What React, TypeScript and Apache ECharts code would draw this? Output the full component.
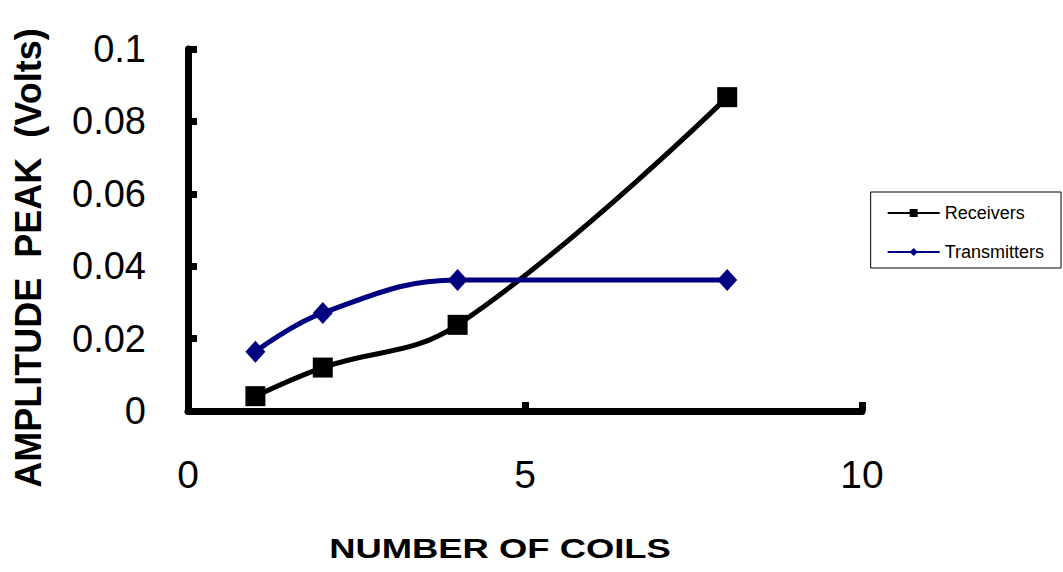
import React, { useEffect, useRef } from "react";
import * as echarts from "echarts";

const coils = [1, 2, 4, 8];
const receivers = [0.0041, 0.012, 0.0238, 0.0867];
const transmitters = [0.0164, 0.0271, 0.0362, 0.0362];
const xTitle = "NUMBER OF COILS";
const yTitle = "AMPLITUDE  PEAK  (Volts)";

export default function App() {
  const ref = useRef<HTMLDivElement>(null);
  useEffect(() => {
    const chart = echarts.init(ref.current!, null, { renderer: "svg" });
    const font = "Liberation Sans, Arial, sans-serif";
    chart.setOption({
      animation: false,
      backgroundColor: "#ffffff",
      grid: { left: 188, top: 49, width: 674, height: 362, containLabel: false, outerBoundsMode: "none" },
      xAxis: {
        type: "value",
        min: 0,
        max: 10,
        interval: 5,
        axisLine: { show: true, lineStyle: { color: "#000", width: 7 } },
        axisTick: { show: true, inside: true, length: 9, lineStyle: { color: "#000", width: 7 } },
        axisLabel: { fontFamily: font, fontSize: 39, color: "#000", margin: 44 },
        splitLine: { show: false },
      },
      yAxis: {
        type: "value",
        min: 0,
        max: 0.1,
        interval: 0.02,
        axisLine: { show: true, lineStyle: { color: "#000", width: 7 } },
        axisTick: { show: true, inside: true, length: 9, lineStyle: { color: "#000", width: 7 } },
        axisLabel: { fontFamily: font, fontSize: 38, color: "#000", margin: 42 },
        splitLine: { show: false },
      },
      graphic: [
        {
          type: "text",
          x: 500,
          y: 549,
          scaleX: 1.3,
          style: {
            text: xTitle,
            fontFamily: font,
            fontSize: 28,
            fontWeight: "bold",
            fill: "#000",
            textAlign: "center",
            textVerticalAlign: "middle",
          },
        },
        {
          type: "text",
          x: 28,
          y: 258,
          rotation: Math.PI / 2,
          style: {
            text: yTitle,
            fontFamily: font,
            fontSize: 36,
            fontWeight: "bold",
            fill: "#000",
            textAlign: "center",
            textVerticalAlign: "middle",
          },
        },
      ],
      legend: {
        orient: "vertical",
        right: 2,
        top: 192,
        backgroundColor: "#fff",
        borderColor: "#000",
        borderWidth: 1,
        borderRadius: 0,
        padding: [12, 17, 7, 16],
        itemGap: 21,
        itemWidth: 52,
        itemHeight: 10,
        textStyle: { fontFamily: font, fontSize: 18, color: "#000" },
        data: ["Receivers", "Transmitters"],
      },
      series: [
        {
          name: "Receivers",
          type: "line",
          smooth: 0.4,
          data: coils.map((c, i) => [c, receivers[i]]),
          symbol: "rect",
          symbolSize: 20,
          itemStyle: { color: "#000" },
          lineStyle: { color: "#000", width: 5 },
        },
        {
          name: "Transmitters",
          type: "line",
          smooth: 0.4,
          data: coils.map((c, i) => [c, transmitters[i]]),
          symbol: "diamond",
          symbolSize: [20, 22],
          itemStyle: { color: "#000080" },
          lineStyle: { color: "#000080", width: 5 },
        },
      ],
    });
    return () => chart.dispose();
  }, []);
  return <div ref={ref} style={{ position: "fixed", left: 0, top: 0, width: 1063, height: 572 }} />;
}
